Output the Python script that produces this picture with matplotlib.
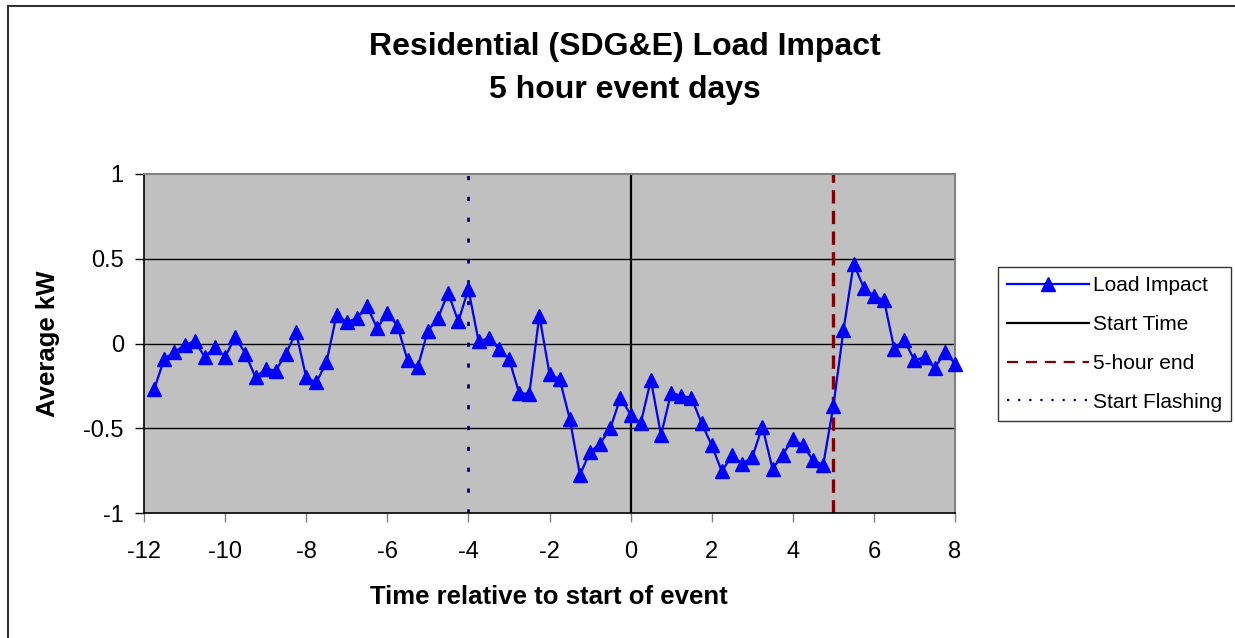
import matplotlib
matplotlib.use('Agg')
import matplotlib.pyplot as plt
from matplotlib.lines import Line2D
import numpy as np

plt.rcParams['font.family'] = ['Liberation Sans', 'DejaVu Sans']

# quarter-hour steps, -11.75 .. 8.0
hours = np.arange(-11.75, 8.01, 0.25)
load_impact = [
    -0.27, -0.09, -0.05, -0.01, 0.015, -0.08, -0.02, -0.08, 0.04, -0.06,
    -0.20, -0.15, -0.16, -0.06, 0.065, -0.20, -0.23, -0.11, 0.17, 0.125,
    0.15, 0.22, 0.09, 0.18, 0.105, -0.10, -0.14, 0.075, 0.15, 0.30,
    0.13, 0.32, 0.015, 0.03, -0.03, -0.09, -0.29, -0.30, 0.165, -0.18,
    -0.21, -0.445, -0.775, -0.64, -0.59, -0.50, -0.32, -0.42, -0.47, -0.215,
    -0.54, -0.29, -0.31, -0.32, -0.47, -0.60, -0.755, -0.66, -0.71, -0.67,
    -0.49, -0.74, -0.655, -0.565, -0.60, -0.69, -0.715, -0.37, 0.08, 0.47,
    0.33, 0.28, 0.255, -0.03, 0.02, -0.10, -0.08, -0.145, -0.05, -0.12,
]
start_time = 0
five_hour_end = 5
start_flashing = -4

x_ticks = [-12, -10, -8, -6, -4, -2, 0, 2, 4, 6, 8]
y_ticks = [-1, -0.5, 0, 0.5, 1]
y_tick_labels = ['-1', '-0.5', '0', '0.5', '1']

W, H = 1235, 638
fig = plt.figure(figsize=(W / 100, H / 100), dpi=100)
fig.patch.set_facecolor('white')
ax = fig.add_axes([144 / W, 1 - 513 / H, (955 - 144) / W, (513 - 174) / H])
ax.set_facecolor('#C0C0C0')

for y in [-0.5, 0, 0.5]:
    ax.axhline(y, color='black', lw=1.0, zorder=1)

ax.axvline(start_flashing, color='#000080', lw=2.0, dashes=(1.5, 6.0), zorder=2)
ax.axvline(start_time, color='black', lw=1.6, zorder=2)
ax.axvline(five_hour_end, color='#800000', lw=2.4, dashes=(4.0, 2.2), zorder=2)

ax.plot(hours, load_impact, color='#0000FF', lw=1.6, marker='^',
        markersize=9.5, markerfacecolor='#0000FF', markeredgecolor='#0000FF',
        zorder=3, clip_on=False)

ax.set_xlim(-12, 8)
ax.set_ylim(-1, 1)
ax.set_xticks(x_ticks)
ax.set_xticklabels([str(t) for t in x_ticks])
ax.set_yticks(y_ticks)
ax.set_yticklabels(y_tick_labels)
ax.tick_params(axis='both', direction='out', length=6.5, width=1,
               labelsize=17, colors='black')
ax.tick_params(axis='x', pad=14, color='#808080')
ax.tick_params(axis='y', pad=8)

for side in ['top', 'right']:
    ax.spines[side].set_color('#808080')
    ax.spines[side].set_linewidth(1.5)
for side in ['left', 'bottom']:
    ax.spines[side].set_color('black')
    ax.spines[side].set_linewidth(1.2)

fig.text(625 / W, 1 - 47 / H, 'Residential (SDG&E) Load Impact',
         ha='center', va='center', fontsize=23, fontweight='bold')
fig.text(625 / W, 1 - 90 / H, '5 hour event days',
         ha='center', va='center', fontsize=23, fontweight='bold')
fig.text(549 / W, 1 - 597 / H, 'Time relative to start of event',
         ha='center', va='center', fontsize=18.5, fontweight='bold')
fig.text(48 / W, 1 - 344 / H, 'Average kW', rotation=90,
         ha='center', va='center', fontsize=18.5, fontweight='bold')

handles = [
    Line2D([], [], color='#0000FF', lw=1.6, marker='^', markersize=9.5),
    Line2D([], [], color='black', lw=1.6),
    Line2D([], [], color='#800000', lw=1.6, dashes=(5, 3.5)),
    Line2D([], [], color='#000080', lw=1.6, dashes=(1, 4)),
]
labels = ['Load Impact', 'Start Time', '5-hour end', 'Start Flashing']
leg = fig.legend(handles, labels, loc='upper left',
                 bbox_to_anchor=(998 / W, 1 - 267 / H),
                 bbox_transform=fig.transFigure, borderaxespad=0,
                 fontsize=15, frameon=True, fancybox=False,
                 handlelength=3.9, handletextpad=0.2, labelspacing=0.95,
                 borderpad=0.45)
leg.get_frame().set_edgecolor('black')
leg.get_frame().set_linewidth(1.0)

# chart border (top and left edges only visible)
fig.add_artist(Line2D([8 / W, 8 / W], [0, 1 - 6 / H], color='#333333',
                      lw=1.5, transform=fig.transFigure))
fig.add_artist(Line2D([8 / W, 1], [1 - 6 / H, 1 - 6 / H], color='#333333',
                      lw=1.5, transform=fig.transFigure))

fig.savefig('out.png', dpi=100)
